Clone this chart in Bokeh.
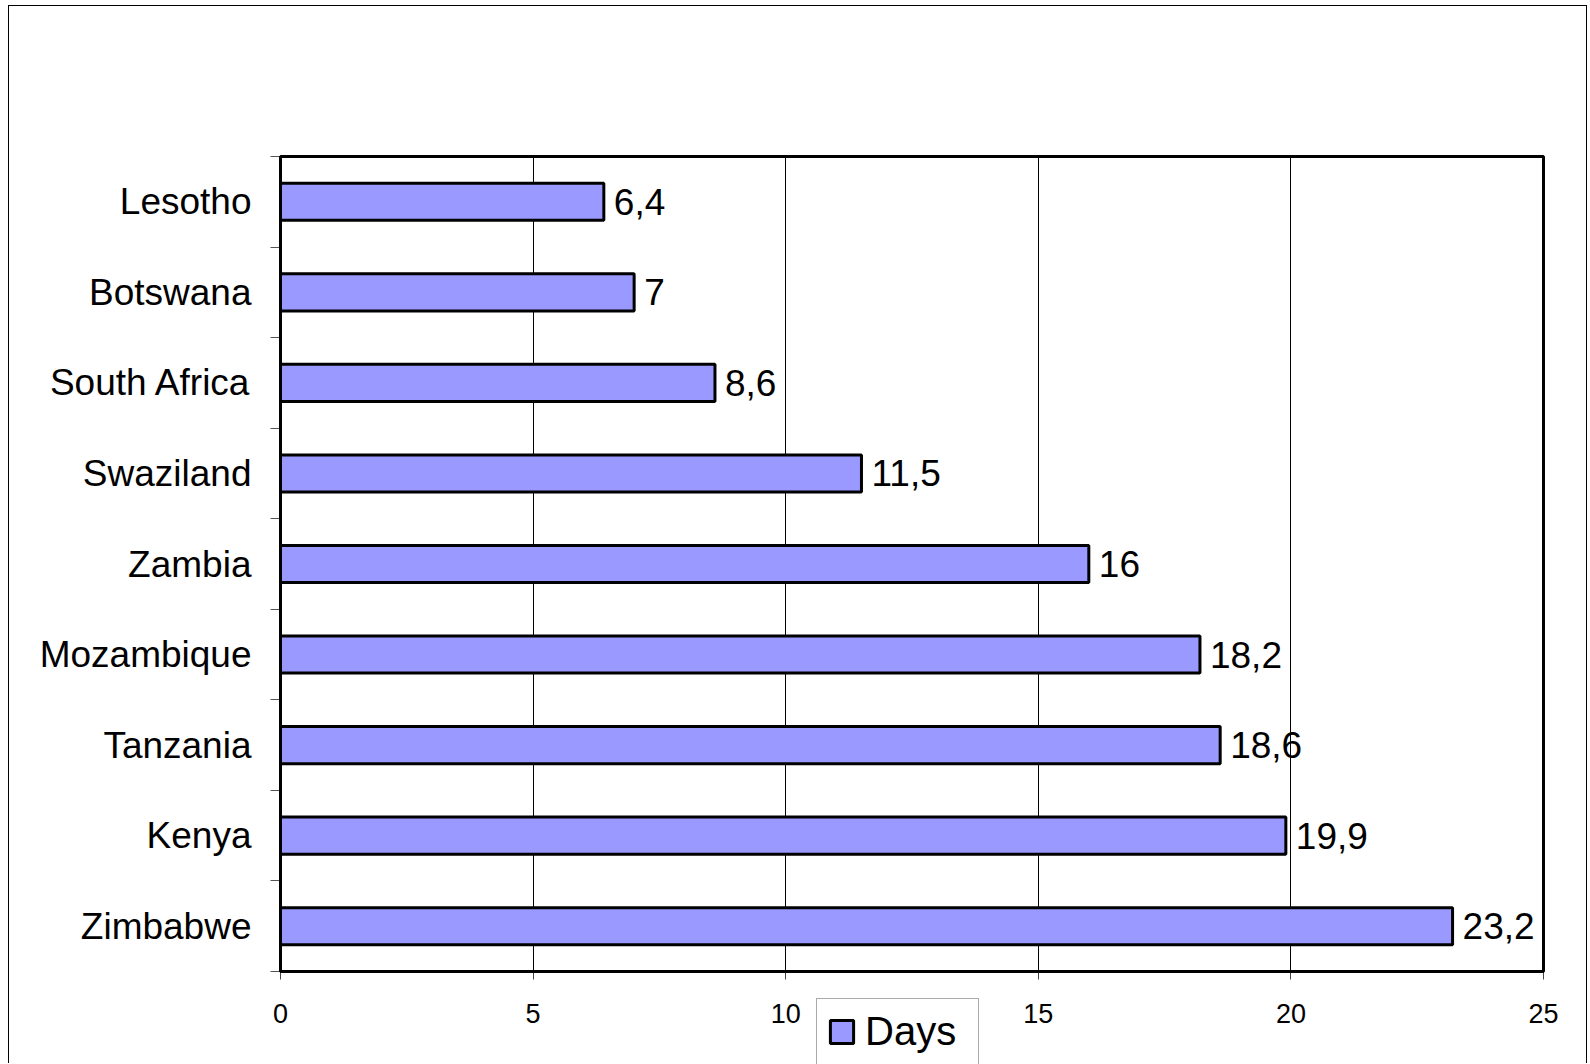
from bokeh.plotting import figure
from bokeh.models import (ColumnDataSource, Range1d, FixedTicker, Legend, LegendItem,
                          BoxAnnotation)
from bokeh.core.properties import value
from bokeh.embed import file_html
from bokeh.resources import INLINE

countries = ["Lesotho", "Botswana", "South Africa", "Swaziland", "Zambia",
             "Mozambique", "Tanzania", "Kenya", "Zimbabwe"]
days = [6.4, 7, 8.6, 11.5, 16, 18.2, 18.6, 19.9, 23.2]
x_ticks = [0, 5, 10, 15, 20, 25]
series_name = "Days"

def fmt(v):
    return ("%g" % v).replace(".", ",")

n = len(countries)
ypos = [i + 0.5 for i in range(n)]
src = ColumnDataSource(dict(y=ypos, days=days, country=countries,
                            lab=[fmt(v) for v in days]))

FONT = "Liberation Sans"

# layout in pixels; the canvas spans the whole frame
CW, CH = 1579, 1058              # canvas size (starts at x=9, y=6 on the page)
AREA_L, AREA_T = 271, 150        # plot-area offset inside the canvas
AREA_W, AREA_H = 1263, 815       # visible plot area
x0, x1 = x_ticks[0], x_ticks[-1]
xpx = AREA_W / (x1 - x0)
ypx = AREA_H / n
right_px = CW - AREA_L - AREA_W
below_px = CH - AREA_T - AREA_H

p = figure(width=CW, height=CH, output_backend="svg", toolbar_location=None,
           x_range=Range1d(x0 - AREA_L / xpx, x1 + right_px / xpx),
           y_range=Range1d(n + below_px / ypx, -AREA_T / ypx),
           min_border_left=0, min_border_right=0, min_border_top=0,
           min_border_bottom=0, margin=(5, 0, 0, 8),
           styles={"border-left": "1px solid #000", "border-top": "1px solid #000",
                   "border-right": "1px solid #000"})
p.outline_line_color = None
p.background_fill_color = "white"
p.border_fill_color = "white"

r = p.hbar(y="y", right="days", left=0, height=0.41, source=src,
           fill_color="#9999FF", line_color="black", line_width=3)

p.text(x="days", y="y", text="lab", source=src, x_offset=10,
       text_baseline="middle", text_align="left",
       text_font=value(FONT), text_font_size="37px", text_color="black")

p.add_layout(BoxAnnotation(left=x0, right=x1, top=0, bottom=n,
                           fill_alpha=0, line_color="black", line_alpha=1,
                           line_width=3))

# x axis
xa = p.xaxis[0]
xa.fixed_location = n
xa.bounds = (x0, x1)
xa.ticker = FixedTicker(ticks=x_ticks)
xa.axis_line_color = None
xa.major_tick_out = 8
xa.major_tick_in = 0
xa.major_tick_line_color = "#444"
xa.minor_tick_line_color = None
xa.major_label_text_font = FONT
xa.major_label_text_font_size = "27px"
xa.major_label_text_color = "black"
xa.major_label_standoff = 24

# y axis
ya = p.yaxis[0]
ya.fixed_location = x0
ya.bounds = (0, n)
ya.ticker = FixedTicker(ticks=ypos, minor_ticks=list(range(n + 1)))
ya.major_label_overrides = {y: c for y, c in zip(ypos, countries)}
ya.axis_line_color = None
ya.major_tick_out = 0
ya.major_tick_in = 0
ya.minor_tick_out = 10
ya.minor_tick_in = 0
ya.minor_tick_line_color = "#555"
ya.major_label_text_font = FONT
ya.major_label_text_font_size = "37px"
ya.major_label_text_color = "black"
ya.major_label_standoff = 19

p.xgrid.grid_line_color = "black"
p.xgrid.grid_line_width = 1
p.xgrid.ticker = FixedTicker(ticks=x_ticks[1:-1])
p.xgrid.cross_bounds = (0, n)
p.ygrid.grid_line_color = None

legend = Legend(items=[LegendItem(label=series_name, renderers=[r])],
                location=(AREA_L + 536, -1), orientation="vertical",
                label_text_font=FONT, label_text_font_size="40px",
                label_text_color="black", label_width=103,
                glyph_width=29, glyph_height=29, padding=10, label_standoff=9,
                border_line_color="#555", border_line_width=1,
                background_fill_color="white", background_fill_alpha=1,
                margin=0)
p.add_layout(legend, "center")

open("out.html", "w").write(file_html(p, INLINE))
